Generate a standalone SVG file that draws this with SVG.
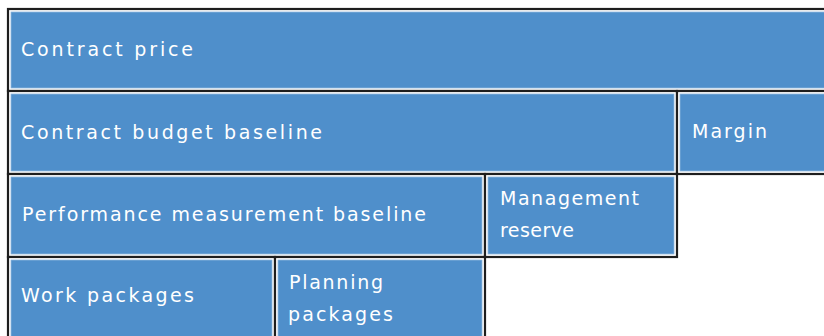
<svg xmlns="http://www.w3.org/2000/svg" width="824" height="336" viewBox="0 0 824 336">
<style>
.frame{fill:#ffffff;stroke:#1e1e1e;stroke-width:2.2}
.fill{fill:#4f8fcb;stroke:#8fb6dc;stroke-width:0.8}
.lbl{font-family:"DejaVu Sans","Liberation Sans",sans-serif;font-size:19px;fill:#ffffff}
</style>
<rect width="824" height="336" fill="#ffffff"/>
<g id="contract-price">
<rect class="frame" x="8" y="9" width="830" height="82"/>
<rect class="fill" x="11" y="12" width="824" height="76"/>
<text class="lbl" x="21" y="56" textLength="172" lengthAdjust="spacing">Contract price</text>
</g>
<g id="contract-budget-baseline">
<rect class="frame" x="8" y="91" width="669" height="83"/>
<rect class="fill" x="11" y="94" width="663" height="77"/>
<text class="lbl" x="21" y="139" textLength="301" lengthAdjust="spacing">Contract budget baseline</text>
</g>
<g id="margin">
<rect class="frame" x="677" y="91" width="160" height="83"/>
<rect class="fill" x="680" y="94" width="154" height="77"/>
<text class="lbl" x="692" y="138" textLength="75" lengthAdjust="spacing">Margin</text>
</g>
<g id="performance-measurement-baseline">
<rect class="frame" x="8" y="174" width="477" height="83"/>
<rect class="fill" x="11" y="177" width="471" height="77"/>
<text class="lbl" x="22" y="221" textLength="404" lengthAdjust="spacing">Performance measurement baseline</text>
</g>
<g id="management-reserve">
<rect class="frame" x="485" y="174" width="192" height="83"/>
<rect class="fill" x="488" y="177" width="186" height="77"/>
<text class="lbl" x="500" y="205" textLength="139" lengthAdjust="spacing">Management</text>
<text class="lbl" x="500" y="237" textLength="74" lengthAdjust="spacing">reserve</text>
</g>
<g id="work-packages">
<rect class="frame" x="8" y="257" width="267" height="95"/>
<rect class="fill" x="11" y="260" width="261" height="89"/>
<text class="lbl" x="21" y="302" textLength="173" lengthAdjust="spacing">Work packages</text>
</g>
<g id="planning-packages">
<rect class="frame" x="275" y="257" width="210" height="95"/>
<rect class="fill" x="278" y="260" width="204" height="89"/>
<text class="lbl" x="289" y="289" textLength="94" lengthAdjust="spacing">Planning</text>
<text class="lbl" x="288" y="321" textLength="105" lengthAdjust="spacing">packages</text>
</g>
<g id="connectors"></g>
</svg>
